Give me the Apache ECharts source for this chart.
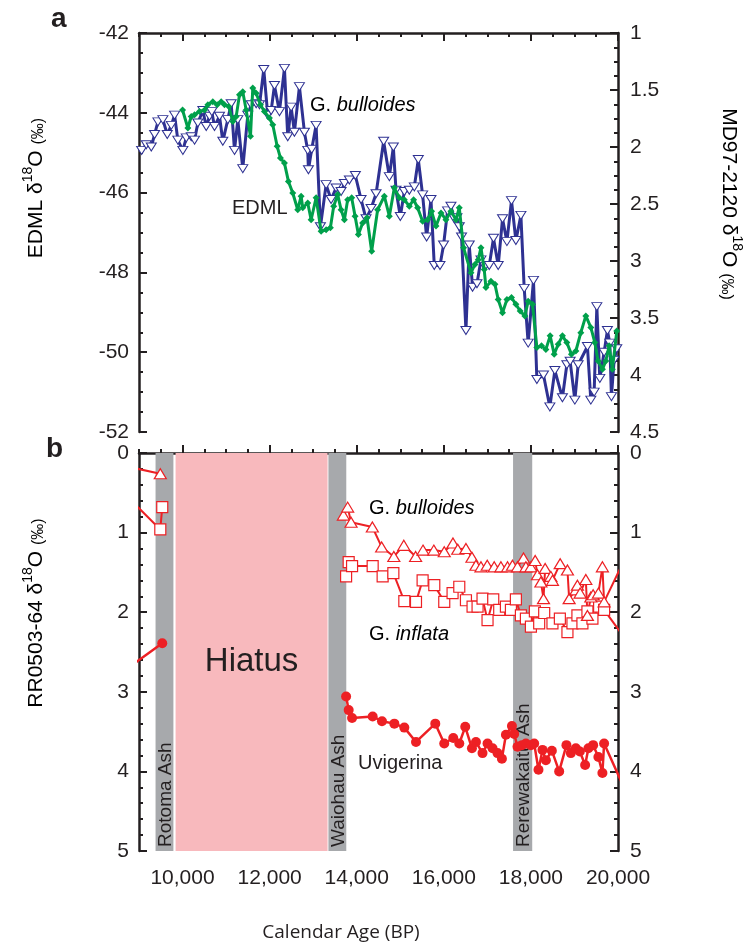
<!DOCTYPE html>
<html>
<head>
<meta charset="utf-8">
<script src="https://cdn.jsdelivr.net/npm/echarts@6/dist/echarts.min.js"></script>
<style>
html, body { margin: 0; padding: 0; background: #fff; }
#main { width: 751px; height: 948px; }
</style>
</head>
<body>
<div id="main"></div>
<script>
// ---- data (calendar age BP, d18O) ----
// panel a: MD97-2120 G. bulloides (right axis)
var mdBulloides = [[9060,2.03],[9167,1.98],[9282,2.00],[9358,1.89],[9434,1.78],[9548,1.76],[9649,1.89],[9741,1.81],[9817,1.72],[9892,1.94],[10007,2.03],[10085,1.92],[10200,1.91],[10275,1.94],[10351,1.79],[10466,1.68],[10544,1.82],[10620,1.73],[10672,1.69],[10734,1.82],[10849,1.73],[10925,1.95],[11039,1.76],[11117,1.62],[11193,2.03],[11269,1.76],[11383,2.19],[11498,1.72],[11576,1.63],[11691,1.62],[11767,1.63],[11865,1.32],[11957,1.72],[12035,1.68],[12111,1.46],[12225,1.69],[12340,1.31],[12416,1.91],[12494,1.65],[12569,1.87],[12684,1.47],[12799,1.87],[12875,2.03],[12891,2.20],[12966,2.02],[13067,1.81],[13166,2.70],[13297,2.33],[13411,2.46],[13526,2.36],[13641,2.39],[13717,2.32],[13831,2.29],[13969,2.25],[14100,2.46],[14214,2.63],[14329,2.54],[14444,2.41],[14618,1.95],[14749,2.26],[14841,2.00],[14902,2.38],[15001,2.61],[15093,2.39],[15208,2.38],[15322,2.35],[15414,2.11],[15513,2.42],[15605,2.79],[15705,2.46],[15781,3.04],[15912,3.04],[15994,2.86],[16086,2.56],[16164,2.52],[16240,2.63],[16302,2.62],[16355,2.70],[16407,2.79],[16508,3.61],[16584,2.86],[16660,3.23],[16761,3.20],[16853,2.99],[16944,3.05],[17043,3.04],[17141,2.80],[17249,3.04],[17348,2.63],[17449,2.83],[17554,2.47],[17655,2.82],[17770,2.60],[17846,3.24],[17937,3.72],[18059,3.17],[18137,4.04],[18289,4.00],[18435,4.28],[18550,3.96],[18724,4.20],[18825,3.91],[18901,3.88],[19009,4.22],[19085,3.91],[19298,3.75],[19376,4.22],[19452,4.15],[19514,3.40],[19582,4.03],[19681,3.80],[19757,3.61],[19812,3.72],[19849,4.19],[19911,3.87],[19972,3.77]];
// panel a: EDML ice core (left axis)
var edml = [[10000,-43.93],[10122,-44.38],[10200,-44.09],[10276,-44.05],[10390,-43.97],[10505,-43.93],[10581,-43.80],[10695,-43.72],[10796,-43.80],[10888,-43.72],[10964,-43.80],[11062,-43.84],[11154,-44.22],[11232,-44.09],[11308,-43.55],[11383,-43.47],[11461,-43.93],[11560,-44.59],[11613,-43.38],[11691,-43.51],[11789,-43.80],[11881,-43.97],[11996,-44.13],[12072,-44.30],[12173,-44.84],[12248,-45.13],[12340,-45.26],[12432,-45.72],[12531,-46.01],[12645,-46.43],[12723,-46.09],[12760,-46.38],[12875,-46.26],[12953,-46.68],[13067,-46.13],[13182,-46.97],[13297,-46.93],[13395,-46.88],[13471,-46.34],[13563,-46.05],[13641,-46.43],[13717,-46.68],[13792,-46.18],[13884,-46.13],[13962,-46.59],[14038,-47.05],[14136,-46.76],[14237,-46.63],[14343,-47.47],[14480,-46.43],[14634,-46.09],[14749,-46.59],[14864,-45.88],[14978,-46.13],[15093,-46.18],[15208,-46.34],[15306,-46.18],[15398,-46.38],[15513,-46.72],[15627,-46.68],[15719,-46.47],[15820,-46.84],[15935,-46.51],[16049,-46.68],[16164,-46.47],[16279,-46.68],[16355,-46.38],[16453,-47.38],[16623,-48.01],[16715,-47.80],[16791,-47.68],[16853,-47.38],[16928,-47.93],[16967,-48.38],[17082,-48.22],[17174,-48.30],[17249,-48.68],[17348,-49.01],[17449,-48.68],[17554,-48.63],[17655,-48.80],[17754,-48.97],[17862,-49.09],[17937,-48.72],[18036,-48.80],[18137,-49.88],[18243,-49.84],[18344,-49.93],[18442,-49.59],[18534,-50.05],[18626,-49.80],[18724,-49.59],[18825,-49.76],[18931,-50.05],[19032,-49.97],[19146,-49.51],[19261,-49.09],[19376,-49.38],[19468,-49.76],[19543,-50.22],[19642,-50.43],[19720,-50.22],[19796,-49.84],[19871,-50.43],[19972,-49.47]];
// panel b: RR0503-64 (null = break across the hiatus)
var rrBulloides = [[8900,0.19],[9489,0.26],[11600,null],[13694,0.78],[13792,0.68],[13870,0.87],[14359,0.93],[14572,1.18],[14852,1.30],[15081,1.16],[15352,1.30],[15522,1.22],[15770,1.22],[16010,1.24],[16210,1.13],[16320,1.21],[16508,1.20],[16646,1.31],[16738,1.41],[16853,1.43],[16997,1.41],[17157,1.43],[17311,1.43],[17463,1.43],[17577,1.41],[17692,1.43],[17830,1.32],[17885,1.43],[17999,1.43],[18098,1.35],[18151,1.53],[18229,1.62],[18289,1.83],[18327,1.45],[18458,1.55],[18495,1.60],[18672,1.39],[18839,1.47],[18878,1.83],[19032,1.72],[19068,1.66],[19130,1.76],[19261,1.59],[19298,2.04],[19376,1.81],[19429,1.78],[19550,1.76],[19642,1.43],[19681,1.87],[20200,1.28]];
var rrInflata = [[8900,0.64],[9489,0.96],[9534,0.68],[11600,null],[13756,1.55],[13815,1.37],[13893,1.42],[14366,1.42],[14595,1.55],[14841,1.51],[15093,1.86],[15361,1.87],[15513,1.60],[15781,1.66],[16010,1.87],[16201,1.76],[16355,1.68],[16508,1.85],[16660,1.93],[16775,1.93],[16889,1.83],[17004,2.10],[17135,1.84],[17272,1.97],[17426,1.93],[17541,1.97],[17655,1.84],[17770,2.04],[17885,2.08],[18000,2.18],[18091,1.99],[18190,2.14],[18305,2.01],[18495,2.14],[18665,2.08],[18839,2.25],[18954,2.14],[19068,2.04],[19183,2.14],[19298,1.99],[19413,2.08],[19566,1.93],[19681,1.97],[20200,2.36]];
var rrUvigerina = [[8900,2.64],[9534,2.39],[11600,null],[13756,3.06],[13815,3.23],[13893,3.33],[14366,3.31],[14580,3.37],[14864,3.40],[15093,3.45],[15361,3.63],[15804,3.40],[16010,3.65],[16217,3.58],[16355,3.65],[16492,3.44],[16646,3.71],[16738,3.63],[16889,3.77],[17004,3.65],[17119,3.71],[17233,3.77],[17334,3.84],[17426,3.54],[17564,3.43],[17616,3.53],[17692,3.69],[17793,3.67],[17885,3.65],[18000,3.67],[18075,3.65],[18174,3.98],[18266,3.73],[18344,3.86],[18481,3.74],[18649,4.00],[18816,3.67],[18917,3.77],[19032,3.71],[19124,3.75],[19245,3.92],[19321,3.71],[19429,3.67],[19550,3.82],[19642,4.02],[19681,3.65],[20200,4.28]];
// tephra layers and hiatus [name, from, to]
var ashBands = [['Rotoma Ash', 9380, 9790], ['Waiohau Ash', 13350, 13760], ['Rerewakaitu Ash', 17590, 18030]];
var hiatus = ['Hiatus', 9840, 13330];
var ageTicks = [10000, 12000, 14000, 16000, 18000, 20000];

var ink = '#231f20';
var blue = '#2e3192', green = '#00a04b', red = '#ed2024';
var font = 'Liberation Sans, Arial, sans-serif';

var chart = echarts.init(document.getElementById('main'));

function majorX(grid, pos, labels) {
  return {
    type: 'value', gridIndex: grid, position: pos, min: 9000, max: 20000, interval: 1000,
    axisLine: { show: true, lineStyle: { color: ink, width: 2.5 } },
    axisTick: { show: true, inside: true, length: 8, customValues: ageTicks, lineStyle: { color: ink, width: 2 } },
    axisLabel: { show: labels, customValues: ageTicks, margin: 17, color: ink, fontSize: 21, fontFamily: font,
      formatter: function (v) { return v.toLocaleString('en-US'); } },
    splitLine: { show: false }
  };
}
function minorX(grid, pos) {
  return {
    type: 'value', gridIndex: grid, position: pos, min: 9000, max: 20000, interval: 500,
    axisLine: { show: false },
    axisTick: { show: true, inside: true, length: 4, lineStyle: { color: ink, width: 2 } },
    axisLabel: { show: false }, splitLine: { show: false }
  };
}
function yAx(grid, pos, min, max, step, split, inverse, margin) {
  return {
    type: 'value', gridIndex: grid, position: pos, min: min, max: max, interval: step, inverse: inverse,
    axisLine: { show: true, lineStyle: { color: ink, width: 2.5 } },
    axisTick: { show: true, inside: true, length: 8, lineStyle: { color: ink, width: 2 } },
    minorTick: { show: true, splitNumber: split, length: 4, lineStyle: { color: ink, width: 2 } },
    axisLabel: { margin: margin, color: ink, fontSize: 21, fontFamily: font },
    splitLine: { show: false }, minorSplitLine: { show: false }
  };
}

var bandAreas = ashBands.map(function (b) {
  return [{ xAxis: b[1], itemStyle: { color: '#a7a9ac' } }, { xAxis: b[2] }];
});
bandAreas.push([{ xAxis: hiatus[1], itemStyle: { color: '#f8b9bd' } }, { xAxis: hiatus[2] }]);

chart.setOption({
  animation: false,
  backgroundColor: '#fff',
  grid: [
    { left: 139, top: 33, width: 479, height: 399 },
    { left: 139, top: 453, width: 479, height: 398 }
  ],
  xAxis: [majorX(0, 'top', false), minorX(0, 'top'), majorX(1, 'bottom', true), minorX(1, 'bottom')],
  yAxis: [
    yAx(0, 'left', -52, -42, 2, 4, false, 10),
    yAx(0, 'right', 1, 4.5, 0.5, 4, true, 12),
    yAx(1, 'left', 0, 5, 1, 5, true, 10),
    yAx(1, 'right', 0, 5, 1, 5, true, 12)
  ],
  series: [
    {
      name: 'MD97-2120 G. bulloides', type: 'line', xAxisIndex: 0, yAxisIndex: 1, data: mdBulloides,
      symbol: 'triangle', symbolRotate: 180, symbolSize: [10, 8], showAllSymbol: true,
      lineStyle: { color: blue, width: 3 }, itemStyle: { color: '#fff', borderColor: blue, borderWidth: 1 }, z: 3
    },
    {
      name: 'EDML', type: 'line', xAxisIndex: 0, yAxisIndex: 0, data: edml,
      symbol: 'diamond', symbolSize: 7, showAllSymbol: true,
      lineStyle: { color: green, width: 3 }, itemStyle: { color: green }, z: 4
    },
    {
      name: 'Uvigerina', type: 'line', xAxisIndex: 2, yAxisIndex: 2, data: rrUvigerina,
      symbol: 'circle', symbolSize: 10, showAllSymbol: true,
      lineStyle: { color: red, width: 2.5 }, itemStyle: { color: red }, z: 3,
      markArea: { silent: true, z: 1, label: { show: false }, data: bandAreas }
    },
    {
      name: 'G. inflata', type: 'line', xAxisIndex: 2, yAxisIndex: 2, data: rrInflata,
      symbol: 'rect', symbolSize: 11, showAllSymbol: true,
      lineStyle: { color: red, width: 2 }, itemStyle: { color: '#fff', borderColor: red, borderWidth: 1.2 }, z: 3
    },
    {
      name: 'G. bulloides', type: 'line', xAxisIndex: 2, yAxisIndex: 2, data: rrBulloides,
      symbol: 'triangle', symbolSize: [12, 10], showAllSymbol: true,
      lineStyle: { color: red, width: 2 }, itemStyle: { color: '#fff', borderColor: red, borderWidth: 1.2 }, z: 3
    }
  ]
});

// annotation text, positioned from the axes
function px(v) { return chart.convertToPixel({ xAxisIndex: 2 }, v); }
function txt(x, y, text, fontStr, align) {
  return { type: 'text', x: x, y: y, z: 2,
    style: { text: text, fill: ink, font: fontStr, align: align || 'left', verticalAlign: 'middle' } };
}
var titleRich = {
  n: { fontSize: 21, fontFamily: font, color: ink, lineHeight: 26, verticalAlign: 'bottom' },
  s: { fontSize: 14, fontFamily: font, color: ink, lineHeight: 26, verticalAlign: 'top' },
  p: { fontSize: 16, fontFamily: font, color: ink, lineHeight: 26, verticalAlign: 'bottom' }
};
var species = {
  n: { fontSize: 20, fontFamily: font, color: ink },
  i: { fontSize: 20, fontFamily: font, color: ink, fontStyle: 'italic' }
};
var gfx = [
  txt(51, 19, 'a', 'bold 28px ' + font),
  txt(46, 449, 'b', 'bold 28px ' + font),
  { type: 'text', x: 34, y: 188, rotation: Math.PI / 2, z: 2,
    style: { text: '{n|EDML δ}{s|18}{n|O }{p|(‰)}', rich: titleRich, align: 'center', verticalAlign: 'middle' } },
  { type: 'text', x: 731, y: 204, rotation: -Math.PI / 2, z: 2,
    style: { text: '{n|MD97-2120 δ}{s|18}{n|O }{p|(‰)}', rich: titleRich, align: 'center', verticalAlign: 'middle' } },
  { type: 'text', x: 34, y: 613, rotation: Math.PI / 2, z: 2,
    style: { text: '{n|RR0503-64 δ}{s|18}{n|O }{p|(‰)}', rich: titleRich, align: 'center', verticalAlign: 'middle' } },
  txt(341, 933, 'Calendar Age (BP)', '19px "Open Sans", sans-serif', 'center'),
  { type: 'text', x: 310, y: 105, z: 2, style: { text: '{n|G. }{i|bulloides}', rich: species, verticalAlign: 'middle' } },
  txt(232, 208, 'EDML', '20px ' + font),
  { type: 'text', x: 369, y: 508, z: 2, style: { text: '{n|G. }{i|bulloides}', rich: species, verticalAlign: 'middle' } },
  { type: 'text', x: 369, y: 634, z: 2, style: { text: '{n|G. }{i|inflata}', rich: species, verticalAlign: 'middle' } },
  txt(358, 763, 'Uvigerina', '20px ' + font),
  txt((px(hiatus[1]) + px(hiatus[2])) / 2, 662, hiatus[0], '33px ' + font, 'center')
];
ashBands.forEach(function (b) {
  gfx.push({ type: 'text', x: (px(b[1]) + px(b[2])) / 2 + 1, y: 847, rotation: Math.PI / 2, z: 2,
    style: { text: b[0], fill: ink, font: '19px ' + font, align: 'left', verticalAlign: 'middle' } });
});
chart.setOption({ graphic: gfx });
</script>
</body>
</html>
